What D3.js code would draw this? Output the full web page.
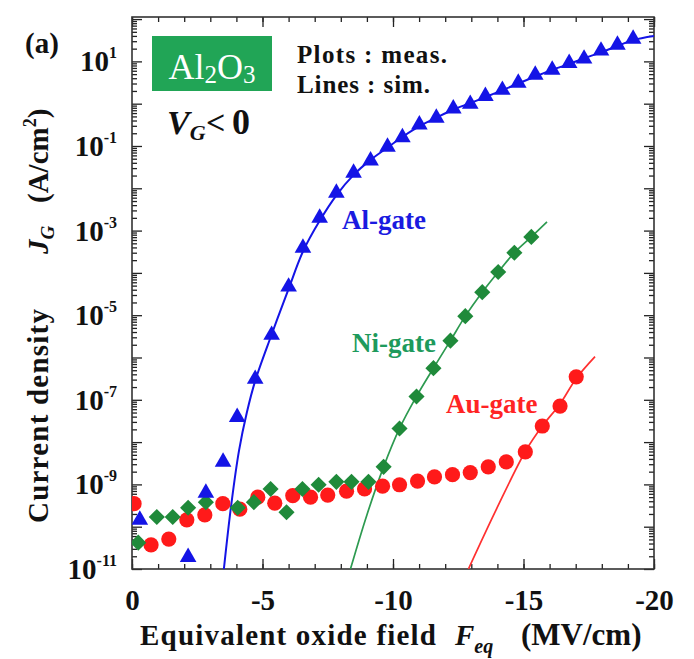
<!DOCTYPE html>
<html>
<head>
<meta charset="utf-8">
<title>Al2O3 gate current</title>
<style>
  body { margin: 0; background: #fff; }
  text { font-family: "Liberation Serif", "Times New Roman", serif; font-weight: bold; }
</style>
</head>
<body>
<script src="https://d3js.org/d3.v7.min.js"></script>
<script>
// Feq in MV/cm, J in A/cm2.  plots = measured, lines = simulated
var alFeq = [-0.3, -2.15, -2.83, -3.49, -4.03, -4.72, -5.35, -6.0, -6.55, -7.19, -7.83, -8.49, -9.14, -9.79,
             -10.36, -11.01, -11.66, -12.31, -12.96, -13.54, -14.19, -14.8, -15.45, -16.1, -16.75, -17.32,
             -17.97, -18.6, -19.2];
var alJ = [1.45e-10, 1.9e-11, 6.3e-10, 3.4e-9, 3.9e-8, 3.1e-7, 3.4e-6, 4.7e-5, 3.9e-4, 2.0e-3, 7.8e-3, 2.3e-2, 4.5e-2, 9.5e-2,
           0.16, 0.32, 0.46, 0.76, 0.98, 1.5, 2.1, 3.1, 4.8, 6.3, 9.1, 11.5,
           17.8, 24.5, 34];
var alSimFeq = [-3.52, -3.8, -4.1, -4.4, -4.72, -5.35, -6.0, -6.55, -7.19, -7.83, -8.5, -9.14, -9.8, -10.4, -11, -11.7,
                -12.3, -13, -13.5, -14.2, -14.8, -15.5, -16.1, -16.75, -17.3, -18, -18.6, -19.2, -20];
var alSimJ = [1e-11, 3.2e-10, 6.3e-9, 5e-8, 2.8e-7, 3.5e-6, 4.2e-5, 3.2e-4, 1.7e-3, 6.8e-3, 2.1e-2, 4.7e-2, 9.3e-2, 0.17, 0.29, 0.48,
              0.72, 1.05, 1.4, 2.1, 3.0, 4.5, 6.3, 8.7, 11.7, 16.6, 23, 32, 40];

var niFeq = [-0.24, -0.95, -1.56, -2.15, -2.83, -4.05, -4.67, -5.31, -5.92, -6.53, -7.15, -7.83, -8.41, -9.06,
             -9.64, -10.25, -10.9, -11.55, -12.2, -12.77, -13.42, -14.03, -14.65, -15.3];
var niJ = [4.2e-11, 1.7e-10, 1.7e-10, 2.8e-10, 3.8e-10, 2.8e-10, 3.8e-10, 7.8e-10, 2.2e-10, 7.8e-10, 9.8e-10, 1.15e-9, 1.15e-9, 1.15e-9,
           2.6e-9, 2.1e-8, 1.2e-7, 5.6e-7, 2.5e-6, 9.5e-6, 3.5e-5, 1.05e-4, 3.0e-4, 7.1e-4];
var niSimFeq = [-8.37, -9.0, -9.64, -10.25, -10.9, -11.55, -12.2, -12.77, -13.42, -14.03, -14.65, -15.3, -15.9];
var niSimJ = [1e-11, 1.9e-10, 2.6e-9, 2.1e-8, 1.2e-7, 5.6e-7, 2.5e-6, 9.5e-6, 3.5e-5, 1.05e-4, 3.0e-4, 7.1e-4, 1.6e-3];

var auFeq = [-0.08, -0.73, -1.41, -2.1, -2.79, -3.48, -4.13, -4.82, -5.47, -6.16, -6.84, -7.5, -8.22, -8.91,
             -9.6, -10.25, -10.94, -11.59, -12.28, -12.96, -13.65, -14.34, -15.07, -15.72, -16.4, -17.02];
var auJ = [3.5e-10, 3.7e-11, 5.1e-11, 1.45e-10, 1.9e-10, 3.5e-10, 2.6e-10, 5.0e-10, 3.6e-10, 5.4e-10, 5.0e-10, 5.6e-10, 6.9e-10, 7.8e-10,
           9.1e-10, 9.8e-10, 1.2e-9, 1.5e-9, 1.7e-9, 1.9e-9, 2.6e-9, 3.4e-9, 5.9e-9, 2.4e-8, 7.1e-8, 3.5e-7];
var auSimFeq = [-12.89, -13.95, -15.07, -15.72, -16.4, -17.02, -17.74];
var auSimJ = [1e-11, 2.5e-10, 6.0e-9, 2.4e-8, 8.0e-8, 3.2e-7, 1.05e-6];

var xTickLabels = [0, -5, -10, -15, -20];
var yTickExps = [1, -1, -3, -5, -7, -9, -11];

var width = 694, height = 659;
var pL = 132, pR = 654, pT = 17, pB = 569;   // plot box

var svg = d3.select("body").append("svg")
    .attr("width", width).attr("height", height);

var x = d3.scaleLinear().domain([0, -20]).range([pL, pR]);
var y = d3.scaleLog().domain([1e-11, 112]).range([pB, pT]);

svg.append("clipPath").attr("id", "plotclip")
  .append("rect").attr("x", pL).attr("y", pT)
  .attr("width", pR - pL).attr("height", pB - pT);

// ticks (inward, on all four sides)
var xMinor = d3.range(0, -21, -1);
var yMinor = [], yMajor = [];
d3.range(-11, 3).forEach(function (e) {
    for (var k = 1; k <= 9; k++) {
        var v = k * Math.pow(10, e);
        if (v > 112) continue;
        if (k == 1) yMajor.push(v); else yMinor.push(v);
    }
});

function tickAxis(axisFn, scale, vals, size, tr) {
    var g = svg.append("g").attr("transform", tr)
        .call(axisFn(scale).tickValues(vals).tickSize(-size).tickFormat(""));
    g.select(".domain").remove();
    g.selectAll("line").attr("stroke", "#222").attr("stroke-width", 1.3);
    return g;
}
tickAxis(d3.axisBottom, x, xMinor, 5, "translate(0," + pB + ")");
tickAxis(d3.axisBottom, x, xTickLabels, 10, "translate(0," + pB + ")");
tickAxis(d3.axisTop, x, xMinor, 5, "translate(0," + pT + ")");
tickAxis(d3.axisTop, x, xTickLabels, 10, "translate(0," + pT + ")");
tickAxis(d3.axisLeft, y, yMinor, 5, "translate(" + pL + ",0)");
tickAxis(d3.axisLeft, y, yMajor, 10, "translate(" + pL + ",0)");
tickAxis(d3.axisRight, y, yMinor, 5, "translate(" + pR + ",0)");
tickAxis(d3.axisRight, y, yMajor, 10, "translate(" + pR + ",0)");

// x tick labels
var xl = svg.append("g").attr("transform", "translate(0," + pB + ")")
    .call(d3.axisBottom(x).tickValues(xTickLabels).tickSize(0).tickPadding(20)
        .tickFormat(function (d) { return d == 0 ? "0" : "-" + Math.abs(d); }));
xl.select(".domain").remove();
xl.selectAll("text").attr("font-size", 29).attr("fill", "#111")
    .style("font-family", "'Liberation Serif', serif").style("font-weight", "bold");

// y tick labels 10^n
yTickExps.forEach(function (e) {
    var t = svg.append("text").attr("x", 117).attr("y", y(Math.pow(10, e)) + 10)
        .attr("text-anchor", "end").attr("fill", "#111").attr("font-size", 29);
    t.append("tspan").text("10");
    t.append("tspan").attr("dy", -13).attr("font-size", 16).text(e);
});

// frame
svg.append("rect").attr("x", pL).attr("y", pT)
    .attr("width", pR - pL).attr("height", pB - pT)
    .attr("fill", "none").attr("stroke", "#333").attr("stroke-width", 1.6);

var plot = svg.append("g").attr("clip-path", "url(#plotclip)");

var line = d3.line()
    .x(function (d) { return x(d[0]); })
    .y(function (d) { return y(d[1]); })
    .curve(d3.curveCatmullRom.alpha(0.5));

function zip(a, b) { return a.map(function (v, i) { return [v, b[i]]; }); }

var blue = "#1414e6", green = "#1f8a3a", red = "#ff1a1a";

plot.append("path").datum(zip(alSimFeq, alSimJ)).attr("d", line)
    .attr("fill", "none").attr("stroke", blue).attr("stroke-width", 2);
plot.append("path").datum(zip(niSimFeq, niSimJ)).attr("d", line)
    .attr("fill", "none").attr("stroke", "#2d9a50").attr("stroke-width", 1.7);
plot.append("path").datum(zip(auSimFeq, auSimJ)).attr("d", line)
    .attr("fill", "none").attr("stroke", "#ff3030").attr("stroke-width", 1.7);

plot.selectAll(".au").data(zip(auFeq, auJ)).enter().append("circle")
    .attr("cx", function (d) { return x(d[0]); })
    .attr("cy", function (d) { return y(d[1]); })
    .attr("r", 7.6).attr("fill", red);

plot.selectAll(".ni").data(zip(niFeq, niJ)).enter().append("path")
    .attr("d", d3.symbol(d3.symbolSquare, 130))
    .attr("transform", function (d) { return "translate(" + x(d[0]) + "," + y(d[1]) + ") rotate(45)"; })
    .attr("fill", green);

plot.selectAll(".al").data(zip(alFeq, alJ)).enter().append("path")
    .attr("d", d3.symbol(d3.symbolTriangle, 120))
    .attr("transform", function (d) { return "translate(" + x(d[0]) + "," + y(d[1]) + ")"; })
    .attr("fill", blue);

// annotations
svg.append("text").attr("x", 25).attr("y", 53).attr("font-size", 29).attr("fill", "#111").text("(a)");

svg.append("rect").attr("x", 152).attr("y", 36).attr("width", 120).attr("height", 55).attr("fill", "#21a556");
var al2o3 = svg.append("text").attr("x", 212).attr("y", 79).attr("text-anchor", "middle")
    .attr("fill", "#fff").attr("font-size", 36).style("font-weight", "normal");
al2o3.append("tspan").text("Al");
al2o3.append("tspan").attr("font-size", 25).attr("dy", 4).text("2");
al2o3.append("tspan").attr("dy", -4).text("O");
al2o3.append("tspan").attr("font-size", 25).attr("dy", 4).text("3");

var vg = svg.append("text").attr("x", 167).attr("y", 134).attr("fill", "#111").attr("font-size", 34);
vg.append("tspan").attr("font-style", "italic").text("V");
vg.append("tspan").attr("font-style", "italic").attr("font-size", 22).attr("dy", 6).text("G");
vg.append("tspan").attr("x", 206).attr("dy", -6).text("<");
vg.append("tspan").attr("x", 232).attr("font-size", 36).text("0");

svg.append("text").attr("x", 297).attr("y", 63).attr("font-size", 25).attr("fill", "#111")
    .attr("textLength", 150).text("Plots : meas.");
svg.append("text").attr("x", 297).attr("y", 93).attr("font-size", 25).attr("fill", "#111")
    .attr("textLength", 133).text("Lines : sim.");

svg.append("text").attr("x", 342).attr("y", 229).attr("font-size", 27).attr("fill", "#1a1ae0").text("Al-gate");
svg.append("text").attr("x", 352).attr("y", 352).attr("font-size", 27).attr("fill", "#1e9a5c").text("Ni-gate");
svg.append("text").attr("x", 446).attr("y", 413).attr("font-size", 27).attr("fill", "#ff2424").text("Au-gate");

// axis titles
var xt = svg.append("text").attr("x", 140).attr("y", 645).attr("font-size", 29).attr("fill", "#111");
xt.append("tspan").attr("textLength", 296).text("Equivalent oxide field");
xt.append("tspan").attr("x", 455).attr("font-style", "italic").text("F");
xt.append("tspan").attr("font-style", "italic").attr("font-size", 20).attr("dy", 8).text("eq");
xt.append("tspan").attr("x", 521).attr("dy", -8).attr("font-size", 31).text("(MV/cm)");

var yt = svg.append("g").attr("transform", "translate(48,0) rotate(-90)");
yt.append("text").attr("x", -523).attr("y", 0).attr("font-size", 29).attr("fill", "#111")
    .attr("textLength", 214).text("Current density");
var jg = yt.append("text").attr("x", -254).attr("y", 0).attr("font-size", 29).attr("fill", "#111");
jg.append("tspan").attr("font-style", "italic").text("J");
jg.append("tspan").attr("font-style", "italic").attr("font-size", 19).attr("dy", 6).text("G");
var un = yt.append("text").attr("x", -203).attr("y", 0).attr("font-size", 29).attr("fill", "#111");
un.append("tspan").text("(A/cm");
un.append("tspan").attr("font-size", 18).attr("dy", -12).text("2");
un.append("tspan").attr("dy", 12).text(")");
</script>
</body>
</html>
